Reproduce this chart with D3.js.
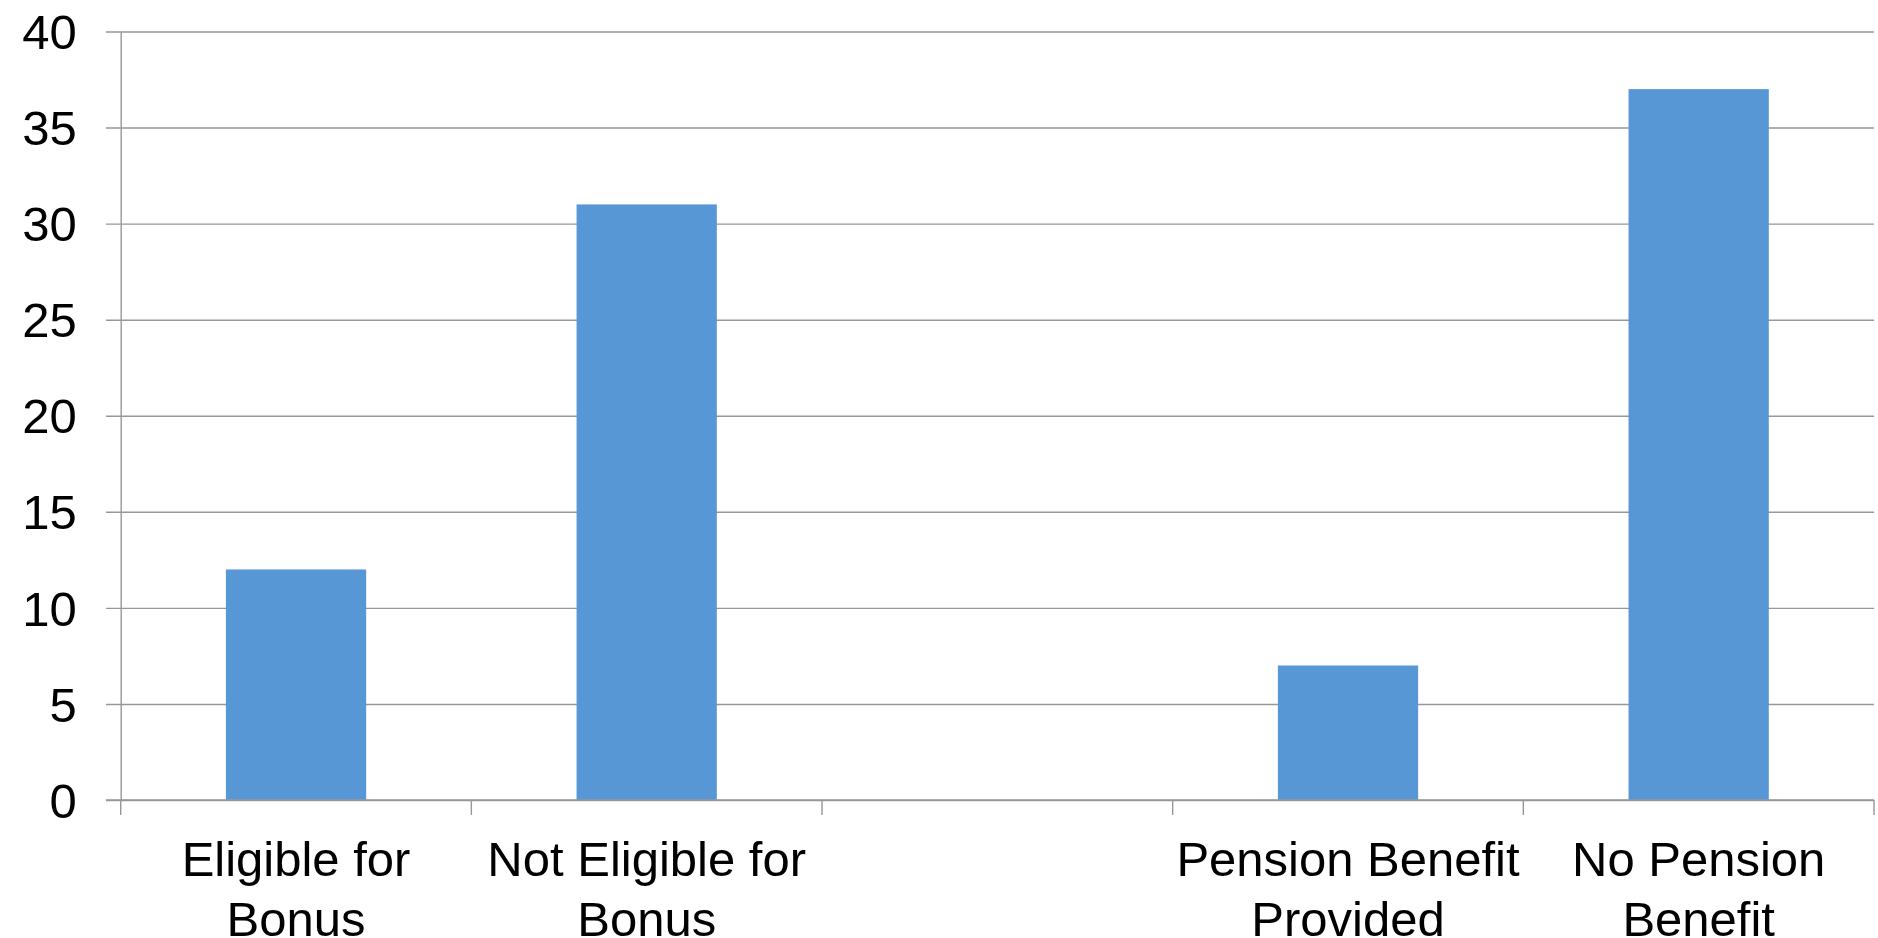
<!DOCTYPE html>
<html>
<head>
<meta charset="utf-8">
<script src="https://cdn.jsdelivr.net/npm/d3@7"></script>
<style>
  html, body { margin: 0; padding: 0; background: #fff; }
  svg { display: block; }
  text { font-family: "Liberation Sans", Arial, sans-serif; fill: #000; }
</style>
</head>
<body>
<svg id="chart" width="1878" height="938"></svg>
<script>
// Categories along the x axis ("\n" marks a line break; the empty one is a spacer slot)
const categories = [
  "Eligible for\nBonus",
  "Not Eligible for\nBonus",
  "",
  "Pension Benefit\nProvided",
  "No Pension\nBenefit"
];
const values = [12, 31, null, 7, 37];
const yTicks = [0, 5, 10, 15, 20, 25, 30, 35, 40];

(function () {
  const plotLeft = 120.7, plotRight = 1874, plotTop = 31.5, plotBottom = 800;
  const tickLen = 14.7;
  const fontSize = 49;
  const gridColor = "#979797";

  const svg = d3.select("#chart");

  const x = d3.scaleBand()
    .domain(d3.range(categories.length))
    .range([plotLeft, plotRight])
    .paddingInner(0)
    .paddingOuter(0);

  const y = d3.scaleLinear().domain([0, 40]).range([plotBottom, plotTop]);

  // Horizontal gridlines (extending left past the axis as tick marks)
  const grid = svg.append("g")
    .attr("transform", `translate(${plotLeft - tickLen},0)`)
    .call(d3.axisRight(y).tickValues(yTicks).tickSize(plotRight - plotLeft + tickLen).tickFormat(""));
  grid.select(".domain").remove();
  grid.selectAll(".tick line").attr("stroke", gridColor).attr("stroke-width", 1.4);

  // Y axis labels and line
  const yAxis = svg.append("g")
    .attr("transform", `translate(${plotLeft},0)`)
    .call(d3.axisLeft(y).tickValues(yTicks).tickSize(0).tickPadding(44).tickFormat(d3.format("d")));
  yAxis.select(".domain").attr("stroke", gridColor).attr("stroke-width", 1.4);
  yAxis.selectAll(".tick text")
    .attr("font-size", fontSize)
    .attr("font-family", "'Liberation Sans', Arial, sans-serif")
    .attr("fill", "#000")
    .attr("dy", "0.35em");

  // Bars
  const barFrac = 0.4;
  svg.append("g")
    .selectAll("rect")
    .data(values.map((v, i) => ({ v, i })).filter(d => d.v != null))
    .join("rect")
    .attr("x", d => x(d.i) + x.bandwidth() * (1 - barFrac) / 2)
    .attr("width", x.bandwidth() * barFrac)
    .attr("y", d => y(d.v))
    .attr("height", d => y(0) - y(d.v))
    .attr("fill", "#5897d6");

  // X axis baseline and tick marks at category boundaries
  svg.append("line")
    .attr("x1", plotLeft - tickLen).attr("x2", plotRight)
    .attr("y1", y(0)).attr("y2", y(0))
    .attr("stroke", gridColor).attr("stroke-width", 1.4);

  const bounds = x.domain().map(i => x(i)).concat([plotRight]);
  svg.append("g")
    .selectAll("line")
    .data(bounds)
    .join("line")
    .attr("x1", d => d).attr("x2", d => d)
    .attr("y1", y(0)).attr("y2", y(0) + 15)
    .attr("stroke", gridColor).attr("stroke-width", 1.4);

  // Category labels, wrapped onto two lines
  const labels = svg.append("g")
    .selectAll("text")
    .data(categories.map((c, i) => ({ c, i })))
    .join("text")
    .attr("text-anchor", "middle")
    .attr("font-size", fontSize)
    .attr("transform", d => `translate(${x(d.i) + x.bandwidth() / 2},876)`);

  labels.selectAll("tspan")
    .data(d => d.c ? d.c.split("\n") : [])
    .join("tspan")
    .attr("x", 0)
    .attr("y", (d, k) => k * 60)
    .text(d => d);
})();
</script>
</body>
</html>
